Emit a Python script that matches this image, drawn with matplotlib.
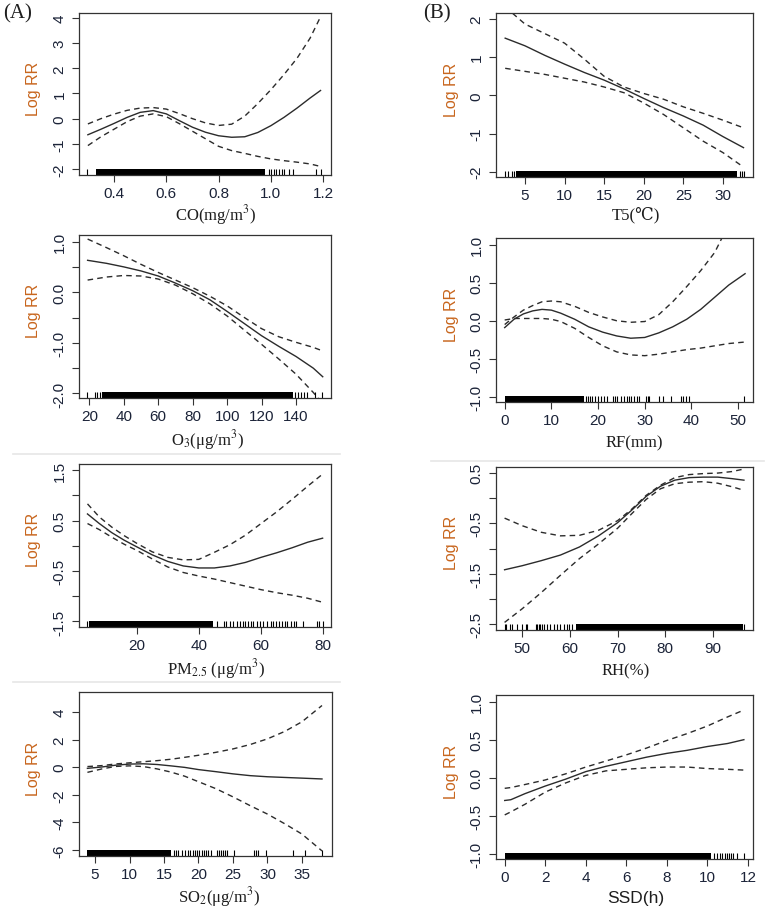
import matplotlib
matplotlib.use("Agg")
import matplotlib.pyplot as plt
from matplotlib.lines import Line2D

plt.rcParams['axes.unicode_minus'] = False
plt.rcParams['mathtext.fontset'] = 'stix'

# ---------------- data ----------------
# CO
co_x = [0.30, 0.35, 0.40, 0.45, 0.50, 0.55, 0.60, 0.65, 0.70, 0.75, 0.80, 0.85, 0.90, 0.95, 1.00, 1.05, 1.10, 1.15, 1.19]
co_fit = [-0.64, -0.42, -0.19, 0.05, 0.25, 0.32, 0.19, -0.08, -0.34, -0.54, -0.68, -0.74, -0.72, -0.55, -0.28, 0.05, 0.42, 0.82, 1.12]
co_upper = [-0.21, 0.0, 0.18, 0.33, 0.42, 0.44, 0.38, 0.2, 0.0, -0.17, -0.27, -0.22, 0.1, 0.6, 1.15, 1.75, 2.4, 3.2, 4.05]
co_lower = [-1.07, -0.72, -0.42, -0.12, 0.1, 0.19, 0.08, -0.2, -0.5, -0.8, -1.1, -1.27, -1.38, -1.5, -1.6, -1.67, -1.73, -1.8, -1.9]
co_rug_dense = [(0.332, 0.979)]
co_rug_ticks = [0.297, 0.993, 1.002, 1.011, 1.021, 1.032, 1.041, 1.049, 1.068, 1.085, 1.172, 1.19]

# T5
t5_x = [2.5, 5, 7.5, 10, 12.5, 15, 17.5, 20, 22.5, 25, 27.5, 30, 32.6]
t5_fit = [1.5, 1.3, 1.05, 0.82, 0.6, 0.4, 0.17, -0.08, -0.32, -0.54, -0.78, -1.08, -1.37]
t5_upper = [2.32, 1.87, 1.62, 1.37, 0.95, 0.5, 0.22, 0.05, -0.1, -0.3, -0.47, -0.65, -0.85]
t5_lower = [0.71, 0.63, 0.55, 0.45, 0.35, 0.22, 0.07, -0.2, -0.5, -0.85, -1.2, -1.5, -1.88]
t5_rug_dense = [(3.9, 31.8)]
t5_rug_ticks = [2.5, 2.9, 3.3, 3.6, 32.1, 32.4, 32.7]

# O3
o3_x = [19, 30, 40, 50, 60, 70, 80, 90, 100, 110, 120, 130, 140, 150, 155.5]
o3_fit = [0.63, 0.57, 0.5, 0.42, 0.32, 0.18, 0.03, -0.15, -0.38, -0.62, -0.86, -1.07, -1.27, -1.5, -1.67]
o3_upper = [1.05, 0.88, 0.72, 0.55, 0.39, 0.24, 0.09, -0.08, -0.27, -0.5, -0.72, -0.88, -0.99, -1.09, -1.16]
o3_lower = [0.24, 0.3, 0.33, 0.32, 0.26, 0.14, -0.03, -0.23, -0.47, -0.75, -1.03, -1.32, -1.62, -1.98, -2.2]
o3_rug_dense = [(27.2, 138.0)]
o3_rug_ticks = [18.8, 23.3, 24.3, 26.2, 139.4, 141.4, 142.7, 144.7, 146.2, 151.0, 155.0]

# RF
rf_x = [0, 2, 4, 6, 8, 10, 12, 15, 18, 21, 24, 27, 30, 33, 36, 39, 42, 45, 48, 51.5]
rf_fit = [-0.09, 0.02, 0.09, 0.13, 0.15, 0.14, 0.1, 0.02, -0.08, -0.15, -0.2, -0.23, -0.22, -0.16, -0.08, 0.02, 0.15, 0.31, 0.47, 0.62]
rf_upper = [-0.05, 0.05, 0.14, 0.2, 0.25, 0.26, 0.25, 0.19, 0.11, 0.05, 0.0, -0.02, -0.01, 0.08, 0.25, 0.45, 0.66, 0.9, 1.27, 1.6]
rf_lower = [0.01, 0.03, 0.03, 0.03, 0.03, 0.02, -0.01, -0.1, -0.22, -0.33, -0.41, -0.45, -0.46, -0.44, -0.41, -0.38, -0.36, -0.33, -0.3, -0.28]
rf_rug_dense = [(0.0, 17.0)]
rf_rug_ticks = [17.4, 17.9, 18.3, 18.8, 19.3, 19.9, 20.6, 21.3, 22.0, 23.1, 23.6, 24.1, 25.0, 25.6,
                26.1, 26.6, 27.1, 27.7, 28.3, 28.8, 30.2, 30.6, 30.9, 33.1, 33.9, 35.7, 37.7, 38.3,
                38.8, 39.5, 51.3]

# PM2.5
pm_x = [4.2, 8, 12, 16, 20, 25, 30, 35, 40, 45, 50, 55, 60, 65, 70, 75, 79.8]
pm_fit = [0.63, 0.44, 0.26, 0.11, -0.02, -0.18, -0.31, -0.4, -0.44, -0.44, -0.4, -0.33, -0.23, -0.14, -0.04, 0.07, 0.15]
pm_upper = [0.83, 0.57, 0.37, 0.2, 0.05, -0.12, -0.23, -0.28, -0.27, -0.13, 0.02, 0.21, 0.44, 0.67, 0.92, 1.18, 1.42]
pm_lower = [0.44, 0.32, 0.17, 0.03, -0.09, -0.26, -0.42, -0.53, -0.6, -0.66, -0.73, -0.8, -0.87, -0.93, -0.98, -1.04, -1.12]
pm_rug_dense = [(4.8, 44.6)]
pm_rug_ticks = [4.15, 45.7, 48.1, 48.7, 50.0, 51.1, 52.3, 53.2, 54.1, 54.8, 55.9, 56.7, 57.5, 58.6,
                59.6, 60.7, 61.8, 63.1, 63.9, 64.8, 65.7, 66.6, 67.7, 68.4, 69.5, 70.6, 71.2, 73.4,
                77.9, 78.7, 79.8]

# RH
rh_x = [46.3, 50, 54, 58, 62, 66, 70, 73, 76, 79, 82, 85, 88, 91, 94, 96.5]
rh_fit = [-1.42, -1.34, -1.24, -1.13, -0.97, -0.75, -0.49, -0.24, 0.03, 0.23, 0.35, 0.4, 0.41, 0.41, 0.38, 0.35]
rh_upper = [-0.4, -0.55, -0.68, -0.75, -0.74, -0.64, -0.45, -0.22, 0.05, 0.25, 0.4, 0.46, 0.48, 0.49, 0.52, 0.57]
rh_lower = [-2.46, -2.19, -1.87, -1.53, -1.2, -0.91, -0.6, -0.31, -0.03, 0.18, 0.28, 0.31, 0.32, 0.29, 0.22, 0.15]
rh_rug_dense = [(61.2, 96.2)]
rh_rug_ticks = [46.3, 46.7, 47.4, 47.9, 49.0, 49.9, 50.7, 51.0, 52.8, 53.1, 53.5, 53.8, 54.2, 54.5,
                55.2, 55.9, 56.6, 57.3, 58.0, 58.7, 59.3, 59.8, 60.5, 96.5]

# SO2
so2_x = [3.9, 6, 8, 10, 12, 14, 16, 18, 20, 22.5, 25, 27.5, 30, 32.5, 35, 37.9]
so2_fit = [-0.08, 0.02, 0.15, 0.23, 0.25, 0.2, 0.1, -0.01, -0.17, -0.32, -0.48, -0.61, -0.69, -0.74, -0.79, -0.85]
so2_upper = [0.05, 0.12, 0.24, 0.32, 0.4, 0.48, 0.58, 0.72, 0.87, 1.08, 1.33, 1.65, 2.06, 2.6, 3.3, 4.48]
so2_lower = [-0.37, -0.12, 0.06, 0.1, 0.05, -0.12, -0.35, -0.65, -1.05, -1.55, -2.15, -2.79, -3.4, -4.1, -4.85, -6.07]
so2_rug_dense = [(3.9, 16.0)]
so2_rug_ticks = [16.4, 16.8, 17.1, 17.6, 18.1, 18.5, 18.8, 19.2, 19.5, 19.8, 20.1, 20.5, 20.8, 21.1,
                 21.4, 21.8, 22.7, 22.9, 23.2, 23.5, 23.9, 24.2, 25.1, 28.1, 28.4, 28.6, 29.8, 33.7,
                 35.5, 37.9]

# SSD
ssd_x = [0, 0.3, 1, 2, 3, 4, 5, 6, 7, 8, 9, 10, 11, 11.8]
ssd_fit = [-0.3, -0.29, -0.21, -0.11, -0.02, 0.08, 0.15, 0.21, 0.27, 0.32, 0.36, 0.41, 0.45, 0.5]
ssd_upper = [-0.14, -0.13, -0.09, -0.03, 0.05, 0.14, 0.22, 0.3, 0.39, 0.49, 0.58, 0.68, 0.8, 0.89]
ssd_lower = [-0.49, -0.45, -0.35, -0.19, -0.07, 0.03, 0.09, 0.11, 0.13, 0.14, 0.14, 0.12, 0.11, 0.1]
ssd_rug_dense = [(0.0, 10.2)]
ssd_rug_ticks = [10.32, 10.49, 10.62, 10.73, 10.85, 10.98, 11.08, 11.18, 11.28, 11.47, 11.8]

# axis ticks / labels
co_xticks = [0.4, 0.6, 0.8, 1.0, 1.2]
co_xlabels = ["0.4", "0.6", "0.8", "1.0", "1.2"]
co_yticks = [-2, -1, 0, 1, 2, 3, 4]
co_ylabels = ["-2", "-1", "0", "1", "2", "3", "4"]

t5_xticks = [5, 10, 15, 20, 25, 30]
t5_xlabels = ["5", "10", "15", "20", "25", "30"]
t5_yticks = [-2, -1, 0, 1, 2]
t5_ylabels = ["-2", "-1", "0", "1", "2"]

o3_xticks = [20, 40, 60, 80, 100, 120, 140]
o3_xlabels = ["20", "40", "60", "80", "100", "120", "140"]
o3_yticks = [-2.0, -1.5, -1.0, -0.5, 0.0, 0.5, 1.0]
o3_ylabels = ["-2.0", "", "-1.0", "", "0.0", "", "1.0"]

rf_xticks = [0, 10, 20, 30, 40, 50]
rf_xlabels = ["0", "10", "20", "30", "40", "50"]
rf_yticks = [-1.0, -0.5, 0.0, 0.5, 1.0]
rf_ylabels = ["-1.0", "-0.5", "0.0", "0.5", "1.0"]

pm_xticks = [20, 40, 60, 80]
pm_xlabels = ["20", "40", "60", "80"]
pm_yticks = [-1.5, -1.0, -0.5, 0.0, 0.5, 1.0, 1.5]
pm_ylabels = ["-1.5", "", "-0.5", "", "0.5", "", "1.5"]

rh_xticks = [50, 60, 70, 80, 90]
rh_xlabels = ["50", "60", "70", "80", "90"]
rh_yticks = [-2.5, -2.0, -1.5, -1.0, -0.5, 0.0, 0.5]
rh_ylabels = ["-2.5", "", "-1.5", "", "-0.5", "", "0.5"]

so2_xticks = [5, 10, 15, 20, 25, 30, 35]
so2_xlabels = ["5", "10", "15", "20", "25", "30", "35"]
so2_yticks = [-6, -4, -2, 0, 2, 4]
so2_ylabels = ["-6", "-4", "-2", "0", "2", "4"]

ssd_xticks = [0, 2, 4, 6, 8, 10, 12]
ssd_xlabels = ["0", "2", "4", "6", "8", "10", "12"]
ssd_yticks = [-1.0, -0.5, 0.0, 0.5, 1.0]
ssd_ylabels = ["-1.0", "-0.5", "0.0", "0.5", "1.0"]

xtitles = ["CO(mg/m$^3$)", "T5(\u2103)", "O$_3$(\u03bcg/m$^3$)", "RF(mm)",
           "PM$_{2.5}$ (\u03bcg/m$^3$)", "RH(%)", "SO$_2$(\u03bcg/m$^3$)", "SSD(h)"]

# ---------------- drawing ----------------
W, H = 767, 912
fig = plt.figure(figsize=(W / 100, H / 100), dpi=100)
fig.patch.set_facecolor('white')

LINE = '#2b2b2b'
TICKC = '#1b2338'
YLAB = '#c8661e'
SANS = ['Liberation Sans', 'DejaVu Sans']
SERIF = ['Liberation Serif', 'DejaVu Serif', 'DejaVu Sans']

panels = [
    dict(box=(79, 14, 331, 176), xlim=(0.266, 1.23), ylim=(-2.24, 4.2),
         x=co_x, fit=co_fit, up=co_upper, lo=co_lower, dense=co_rug_dense, ticks=co_rug_ticks,
         xt=co_xticks, xtl=co_xlabels, yt=co_yticks, ytl=co_ylabels, xlab=0, xlpos=(216, 215), fam=SERIF),
    dict(box=(496, 14, 753, 178), xlim=(1.34, 33.8), ylim=(-2.14, 2.16),
         x=t5_x, fit=t5_fit, up=t5_upper, lo=t5_lower, dense=t5_rug_dense, ticks=t5_rug_ticks,
         xt=t5_xticks, xtl=t5_xlabels, yt=t5_yticks, ytl=t5_ylabels, xlab=1, xlpos=(636, 215), fam=SERIF),
    dict(box=(79, 236, 331, 399), xlim=(14.0, 160.3), ylim=(-2.09, 1.13),
         x=o3_x, fit=o3_fit, up=o3_upper, lo=o3_lower, dense=o3_rug_dense, ticks=o3_rug_ticks,
         xt=o3_xticks, xtl=o3_xlabels, yt=o3_yticks, ytl=o3_ylabels, xlab=2, xlpos=(207, 440), fam=SERIF),
    dict(box=(496, 239, 753, 403), xlim=(-1.86, 53.2), ylim=(-1.07, 1.09),
         x=rf_x, fit=rf_fit, up=rf_upper, lo=rf_lower, dense=rf_rug_dense, ticks=rf_rug_ticks,
         xt=rf_xticks, xtl=rf_xlabels, yt=rf_yticks, ytl=rf_ylabels, xlab=3, xlpos=(634, 443), fam=SERIF),
    dict(box=(79, 465, 331, 628), xlim=(1.47, 82.5), ylim=(-1.61, 1.62),
         x=pm_x, fit=pm_fit, up=pm_upper, lo=pm_lower, dense=pm_rug_dense, ticks=pm_rug_ticks,
         xt=pm_xticks, xtl=pm_xlabels, yt=pm_yticks, ytl=pm_ylabels, xlab=4, xlpos=(216, 669), fam=SERIF),
    dict(box=(496, 468, 753, 631), xlim=(44.5, 98.4), ylim=(-2.61, 0.61),
         x=rh_x, fit=rh_fit, up=rh_upper, lo=rh_lower, dense=rh_rug_dense, ticks=rh_rug_ticks,
         xt=rh_xticks, xtl=rh_xlabels, yt=rh_yticks, ytl=rh_ylabels, xlab=5, xlpos=(626, 671), fam=SERIF),
    dict(box=(79, 693, 332, 857), xlim=(2.68, 39.35), ylim=(-6.44, 5.46),
         x=so2_x, fit=so2_fit, up=so2_upper, lo=so2_lower, dense=so2_rug_dense, ticks=so2_rug_ticks,
         xt=so2_xticks, xtl=so2_xlabels, yt=so2_yticks, ytl=so2_ylabels, xlab=6, xlpos=(219, 897), fam=SERIF),
    dict(box=(496, 696, 753, 860), xlim=(-0.43, 12.25), ylim=(-1.07, 1.088),
         x=ssd_x, fit=ssd_fit, up=ssd_upper, lo=ssd_lower, dense=ssd_rug_dense, ticks=ssd_rug_ticks,
         xt=ssd_xticks, xtl=ssd_xlabels, yt=ssd_yticks, ytl=ssd_ylabels, xlab=7, xlpos=(636, 899), fam=SANS),
]

RUG_H = 0.035

for p in panels:
    l, t, r, b = p['box']
    ax = fig.add_axes([l / W, 1 - b / H, (r - l) / W, (b - t) / H])
    ax.set_xlim(*p['xlim'])
    ax.set_ylim(*p['ylim'])
    ax.plot(p['x'], p['fit'], color=LINE, lw=1.0, solid_joinstyle='round')
    ax.plot(p['x'], p['up'], color=LINE, lw=1.0, dashes=(4, 3))
    ax.plot(p['x'], p['lo'], color=LINE, lw=1.0, dashes=(4, 3))
    for (a, c) in p['dense']:
        ax.axvspan(a, c, ymin=0, ymax=RUG_H, color='black', lw=0)
    ax.vlines(p['ticks'], 0, RUG_H, transform=ax.get_xaxis_transform(), color='black', lw=0.8)

    ax.set_xticks(p['xt'])
    ax.set_xticklabels(p['xtl'])
    ax.set_yticks(p['yt'])
    ax.set_yticklabels(p['ytl'], rotation=90, va='center')
    ax.tick_params(direction='out', length=5, width=0.8, color='#333333',
                   labelsize=11, labelcolor=TICKC, pad=4)
    ax.tick_params(axis='x', pad=3)
    for lab in ax.get_xticklabels() + ax.get_yticklabels():
        lab.set_fontfamily(SANS)
    for s in ax.spines.values():
        s.set_color('#333333')
        s.set_linewidth(0.9)

    ax.set_ylabel('Log RR', fontsize=11.5, color=YLAB, family=SANS)
    if l < 200:
        ax.yaxis.set_label_coords((41 - l) / (r - l), 0.54)
    else:
        ax.yaxis.set_label_coords((459 - l) / (r - l), 0.54)

    xl, yl = p['xlpos']
    fs = 12.5 if p['fam'] is SANS else 12
    fig.text(xl / W, 1 - yl / H, xtitles[p['xlab']], ha='center', va='center',
             fontsize=fs, color='#1e1e1e', family=p['fam'])

fig.text(18 / W, 1 - 14 / H, '(A)', ha='center', va='center', fontsize=15,
         family=SERIF, color='#1e1e1e')
fig.text(437 / W, 1 - 14 / H, '(B)', ha='center', va='center', fontsize=15,
         family=SERIF, color='#1e1e1e')

# faint separator lines from the original composite
for (x0, x1, y) in [(13, 340, 455), (13, 340, 683), (431, 764, 462)]:
    fig.add_artist(Line2D([x0 / W, x1 / W], [1 - y / H, 1 - y / H], color='#e6e6e6', lw=1.2))

fig.savefig('out.png', dpi=100)
